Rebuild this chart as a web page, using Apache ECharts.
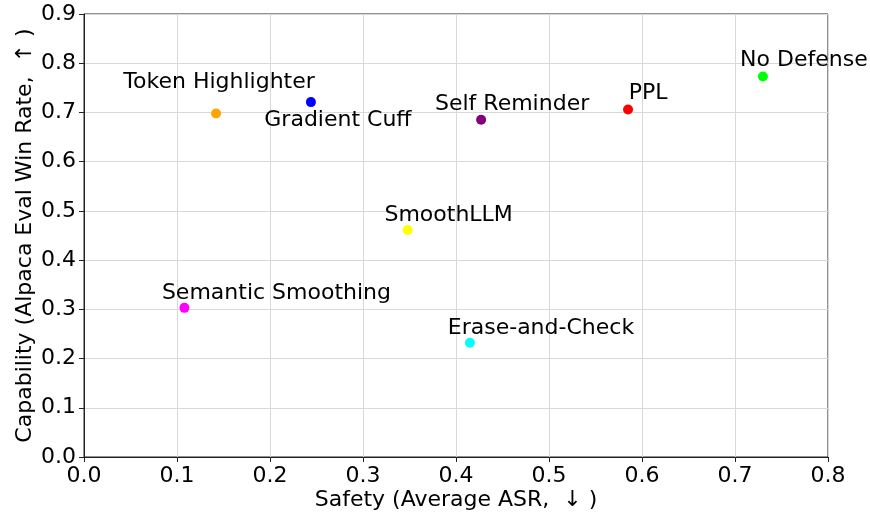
<!DOCTYPE html>
<html>
<head>
<meta charset="utf-8">
<script src="https://cdn.jsdelivr.net/npm/echarts@6/dist/echarts.min.js"></script>
<style>
html,body{margin:0;padding:0;background:#fff;}
#chart{width:870px;height:517px;}
</style>
</head>
<body>
<div id="chart"></div>
<script>
// Data
const methods = ["No Defense", "PPL", "Self Reminder", "Gradient Cuff", "Token Highlighter", "SmoothLLM", "Semantic Smoothing", "Erase-and-Check"];
const safety = [0.730, 0.585, 0.427, 0.244, 0.142, 0.348, 0.108, 0.415];
const capability = [0.773, 0.706, 0.685, 0.721, 0.698, 0.461, 0.303, 0.232];
const xTicks = [0.0, 0.1, 0.2, 0.3, 0.4, 0.5, 0.6, 0.7, 0.8];
const yTicks = [0.0, 0.1, 0.2, 0.3, 0.4, 0.5, 0.6, 0.7, 0.8, 0.9];

// Styling (kept separate from data)
const colors = ["#00FF00", "#FF0000", "#800080", "#0000FF", "#FFA500", "#FFFF00", "#FF00FF", "#00FFFF"];
const labelOffsets = [[41, -16], [20, -16], [31, -16], [27, 18], [3, -31], [41, -15], [92, -15], [71, -15]];

const FONT = "DejaVu Sans";
const chart = echarts.init(document.getElementById('chart'), null, {renderer: 'canvas'});

const data = methods.map((m, i) => ({
  name: m,
  value: [safety[i], capability[i]],
  itemStyle: {color: colors[i], opacity: 1},
  label: {offset: labelOffsets[i]}
}));

chart.setOption({
  animation: false,
  backgroundColor: '#fff',
  grid: {left: 84, right: 42, top: 14, bottom: 60, containLabel: false, outerBoundsMode: 'none',
         show: true, borderColor: '#222', borderWidth: 1, backgroundColor: 'transparent'},
  xAxis: {
    type: 'value', min: xTicks[0], max: xTicks[xTicks.length - 1], interval: 0.1,
    name: 'Safety (Average ASR,  ↓ )', nameLocation: 'middle', nameGap: 32, nameMoveOverlap: false,
    nameTextStyle: {fontFamily: FONT, fontSize: 22, color: '#000'},
    axisLine: {show: true, lineStyle: {color: '#222', width: 1}},
    axisTick: {show: true, inside: false, length: 5, lineStyle: {color: '#222'}},
    axisLabel: {fontFamily: FONT, fontSize: 22, color: '#000', margin: 8, formatter: v => v.toFixed(1)},
    splitLine: {show: true, lineStyle: {color: '#d8d8d8', width: 1}}
  },
  yAxis: {
    type: 'value', min: yTicks[0], max: yTicks[yTicks.length - 1], interval: 0.1,
    name: 'Capability (Alpaca Eval Win Rate,  ↑ )', nameLocation: 'middle', nameGap: 48, nameRotate: 90, nameMoveOverlap: false,
    nameTextStyle: {fontFamily: FONT, fontSize: 22, color: '#000'},
    axisLine: {show: true, lineStyle: {color: '#222', width: 1}},
    axisTick: {show: true, inside: false, length: 5, lineStyle: {color: '#222'}},
    axisLabel: {fontFamily: FONT, fontSize: 22, color: '#000', margin: 8, formatter: v => v.toFixed(1)},
    splitLine: {show: true, lineStyle: {color: '#d8d8d8', width: 1}}
  },
  series: [{
    type: 'scatter',
    symbol: 'circle',
    symbolSize: 10,
    itemStyle: {opacity: 1},
    data: data,
    label: {
      show: true, position: 'inside', formatter: p => p.name,
      fontFamily: FONT, fontSize: 22, color: '#000', opacity: 1
    }
  }]
});
</script>
</body>
</html>
